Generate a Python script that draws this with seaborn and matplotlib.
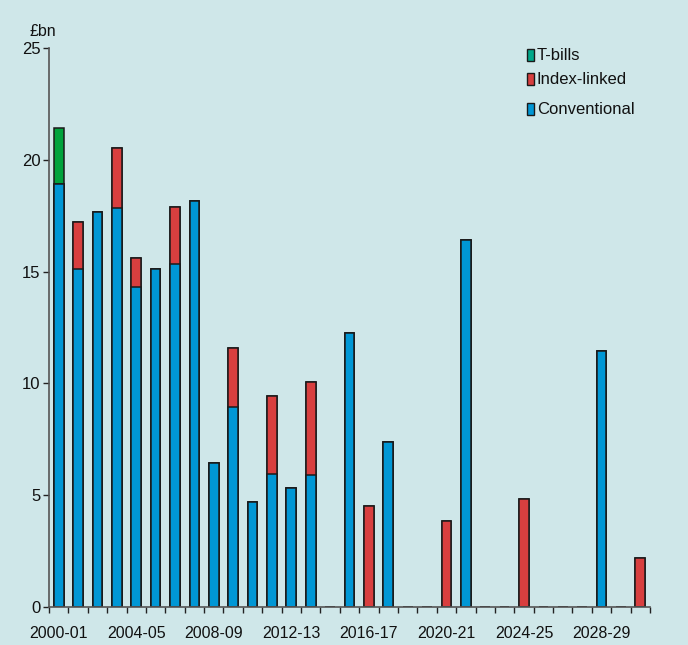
import numpy as np
import pandas as pd
import matplotlib
matplotlib.use("Agg")
import matplotlib.pyplot as plt
from matplotlib.patches import Rectangle
import seaborn as sns

# Gilt redemptions by financial year, £bn
years = [f"{y}-{str(y + 1)[-2:]}" for y in range(2000, 2031)]
conventional = [18.9, 15.1, 17.65, 17.85, 14.3, 15.1, 15.35, 18.15, 6.45, 8.95,
                4.7, 5.95, 5.3, 5.9, 0.0, 12.25, 0.0, 7.4, 0.0, 0.0,
                0.0, 16.4, 0.0, 0.0, 0.0, 0.0, 0.0, 0.0, 11.45, 0.0, 0.0]
index_linked = [0.0, 2.1, 0.0, 2.7, 1.3, 0.0, 2.55, 0.0, 0.0, 2.65,
                0.0, 3.5, 0.0, 4.15, 0.0, 0.0, 4.5, 0.0, 0.0, 0.0,
                3.85, 0.0, 0.0, 0.0, 4.85, 0.0, 0.0, 0.0, 0.0, 0.0, 2.2]
t_bills = [2.5] + [0.0] * 30
tick_years = years[::4][:8]
series_names = ["T-bills", "Index-linked", "Conventional"]

BG = "#CFE7E9"
BLUE = "#0097D5"
RED = "#D83F3F"
GREEN = "#00A33C"
TEAL = "#00A88A"

df = pd.DataFrame({"year": years, "conv": conventional,
                   "il": index_linked, "tb": t_bills})
df["conv_il"] = df["conv"] + df["il"]
df["total"] = df["conv_il"] + df["tb"]

sns.set_theme(style="white")
plt.rcParams["font.family"] = ["Liberation Sans", "DejaVu Sans"]

fig = plt.figure(figsize=(6.88, 6.45), dpi=100, facecolor=BG)
ax = fig.add_axes([49 / 688, 1 - 607 / 645, (650 - 49) / 688, (607 - 48) / 645])
ax.set_facecolor(BG)

bar_kw = dict(order=years, width=0.5, edgecolor="#1a1a1a", linewidth=1.1,
              saturation=1, ax=ax)
# stacked layers drawn back to front
sns.barplot(data=df, x="year", y="total", color=GREEN, **bar_kw)
sns.barplot(data=df, x="year", y="conv_il", color=RED, **bar_kw)
sns.barplot(data=df, x="year", y="conv", color=BLUE, **bar_kw)

ax.set_xlim(-0.5, len(years) - 0.5)
ax.set_ylim(0, 25)
ax.set_yticks([0, 5, 10, 15, 20, 25])
ax.set_xlabel("")
ax.set_ylabel("")

ax.set_xticks(range(0, 29, 4))
ax.set_xticklabels(tick_years)
ax.set_xticks(np.arange(-0.5, len(years), 1.0), minor=True)
ax.tick_params(axis="x", which="major", length=0, pad=14, labelsize=11.5,
               colors="#111111")
ax.tick_params(axis="x", which="minor", length=4, width=1, direction="out",
               color="#222222", bottom=True)
ax.tick_params(axis="y", length=4, width=1, direction="out", left=True,
               labelsize=12, labelcolor="#111111", color="#222222", pad=2)

for side in ("top", "right"):
    ax.spines[side].set_visible(False)
for side in ("left", "bottom"):
    ax.spines[side].set_color("#555555")
    ax.spines[side].set_linewidth(1.2)

fig.text(30 / 688, 1 - 31 / 645, "£bn", fontsize=11.5, va="center",
         ha="left", color="#111111")

# legend
legend_rows = [(55, TEAL), (79, RED), (109, BLUE)]
for (yc, col), name in zip(legend_rows, series_names):
    fig.patches.append(Rectangle((527 / 688, 1 - (yc + 6) / 645), 7 / 688,
                                 12 / 645, transform=fig.transFigure,
                                 facecolor=col, edgecolor="#1a1a1a",
                                 linewidth=1.0))
    fig.text(537 / 688, 1 - yc / 645, name, fontsize=12, va="center",
             ha="left", color="#111111")

fig.savefig("out.png", dpi=100, facecolor=BG)
